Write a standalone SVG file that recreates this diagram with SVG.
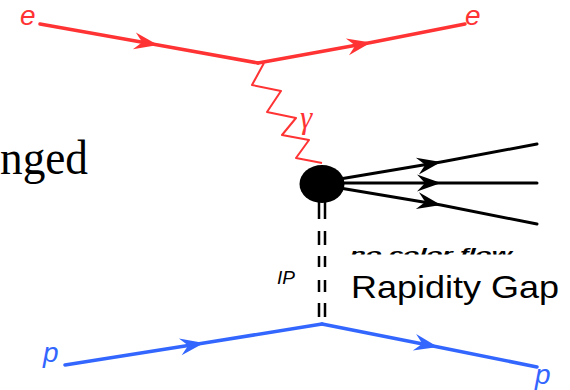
<svg xmlns="http://www.w3.org/2000/svg" width="570" height="390" viewBox="0 0 570 390">
<style>
.e{fill:none;stroke:#ff3333;stroke-width:3.5;stroke-linecap:round}
.p{fill:none;stroke:#3366ff;stroke-width:3.5;stroke-linecap:round}
.j{fill:none;stroke:#000;stroke-width:3;stroke-linecap:round}
.ph{fill:none;stroke:#ff3333;stroke-width:2;stroke-linejoin:round}
.pom{fill:none;stroke:#000;stroke-width:2.5}
.lbl{font-family:"Liberation Sans",Arial,sans-serif;font-style:italic}
</style>
<defs>
<marker id="ar" markerUnits="userSpaceOnUse" viewBox="-26 -10 28 20" refX="0" refY="0" markerWidth="28" markerHeight="20" orient="auto"><path d="M0,0 L-24,-8.5 L-16,0 L-24,8.5 Z" fill="#ff3333"/></marker>
<marker id="ab" markerUnits="userSpaceOnUse" viewBox="-26 -10 28 20" refX="0" refY="0" markerWidth="28" markerHeight="20" orient="auto"><path d="M0,0 L-24,-8.5 L-16,0 L-24,8.5 Z" fill="#3366ff"/></marker>
<marker id="ak" markerUnits="userSpaceOnUse" viewBox="-26 -10 28 20" refX="0" refY="0" markerWidth="28" markerHeight="20" orient="auto"><path d="M0,0 L-24,-8.5 L-16,0 L-24,8.5 Z" fill="#000"/></marker>
<clipPath id="ncf"><rect x="340" y="240" width="200" height="14.5"/></clipPath>
</defs>
<g id="connectors">
<path id="e-in" class="e" d="M40,24 L158,45 L258,63" marker-mid="url(#ar)"/>
<path id="e-out" class="e" d="M258,63 L371,42.5 L465,24" marker-mid="url(#ar)"/>
<path id="photon" class="ph" d="M264,63 L252,85 L281,91 L267,112 L296,118 L282,135 L309,140 L296,158 L322,163"/>
<path id="jet1" class="j" d="M322,182 L441,162 L537,144" marker-mid="url(#ak)"/>
<path id="jet2" class="j" d="M322,183 L441,183 L537,183" marker-mid="url(#ak)"/>
<path id="jet3" class="j" d="M322,185 L441,205 L537,224" marker-mid="url(#ak)"/>
<g id="pomeron" class="pom">
<path d="M319,195 V219 M319,231 V245 M319,256 V267 M319,280 V292 M319,303 V317"/>
<path d="M325,195 V219 M325,231 V245 M325,256 V267 M325,280 V292 M325,303 V317"/>
</g>
<path id="p-in" class="p" d="M65,365 L204,343 L322,324" marker-mid="url(#ab)"/>
<path id="p-out" class="p" d="M322,324 L438,347 L537,367" marker-mid="url(#ab)"/>
</g>
<g id="blob"><ellipse cx="322" cy="184" rx="22.5" ry="19" fill="#000"/></g>
<g id="labels">
<text class="lbl" x="20" y="25" font-size="28" fill="#ff3333">e</text>
<text class="lbl" x="465" y="25" font-size="28" fill="#ff3333">e</text>
<text x="300" y="128" font-size="31" font-style="italic" font-family="Liberation Serif,'Times New Roman',serif" fill="#ff3333">γ</text>
<text class="lbl" x="43" y="362" font-size="28" fill="#3366ff">p</text>
<text class="lbl" x="535" y="384" font-size="28" fill="#3366ff">p</text>
<text class="lbl" x="277" y="284" font-size="19">IP</text>
<text x="0" y="174" font-size="48" textLength="88" lengthAdjust="spacingAndGlyphs" font-family="Liberation Serif,'Times New Roman',serif" fill="#000">nged</text>
<text x="351" y="298" font-size="32" textLength="208" lengthAdjust="spacingAndGlyphs" font-family="Liberation Sans,Arial,sans-serif" fill="#000">Rapidity Gap</text>
<g clip-path="url(#ncf)"><text class="lbl" x="350" y="259" font-size="14" font-weight="bold" textLength="162" lengthAdjust="spacingAndGlyphs">no color flow</text></g>
</g>
</svg>
